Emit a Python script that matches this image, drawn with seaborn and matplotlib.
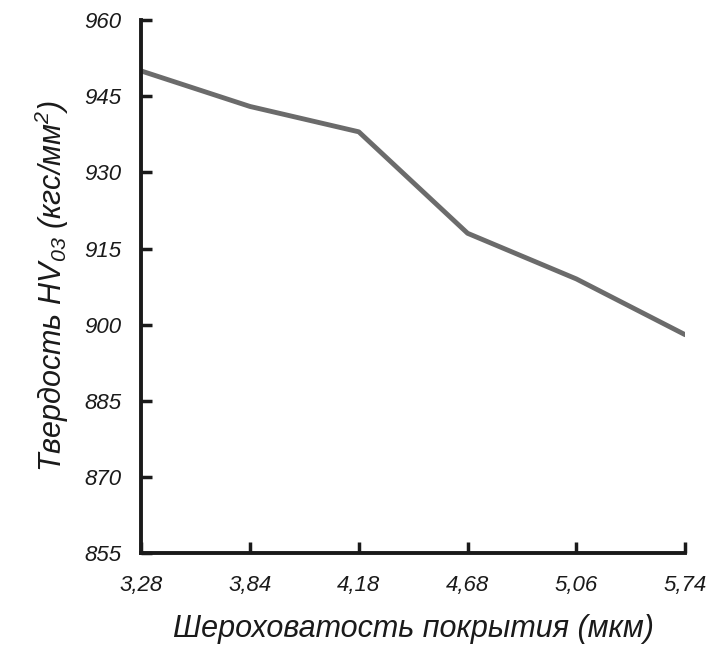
import numpy as np
import pandas as pd
import seaborn as sns
import matplotlib.pyplot as plt

roughness = ['3,28', '3,84', '4,18', '4,68', '5,06', '5,74']
hardness = [950, 943, 938, 918, 909, 898]
y_ticks = [855, 870, 885, 900, 915, 930, 945, 960]

sns.set_theme(style='ticks')
plt.rcParams['font.family'] = ['Liberation Sans Narrow', 'Liberation Sans', 'DejaVu Sans']
plt.rcParams['font.style'] = 'italic'
plt.rcParams['mathtext.fontset'] = 'custom'
plt.rcParams['mathtext.rm'] = 'Liberation Sans:italic'
plt.rcParams['mathtext.it'] = 'Liberation Sans:italic'

df = pd.DataFrame({'x': roughness, 'y': hardness})

fig = plt.figure(figsize=(7.13, 6.52), dpi=100)
ax = fig.add_axes([0.198, 0.152, 0.763, 0.817])

sns.lineplot(data=df, x='x', y='y', ax=ax, color='#6b6b6b', linewidth=3.5, sort=False)

ax.set_xlim(0, len(roughness) - 1)
ax.set_ylim(855, 960)
ax.set_yticks(y_ticks)
ax.set_yticklabels([str(v) for v in y_ticks])

for side in ['top', 'right']:
    ax.spines[side].set_visible(False)
for side in ['left', 'bottom']:
    ax.spines[side].set_color('#1a1a1a')
    ax.spines[side].set_linewidth(2.8)

ax.tick_params(axis='both', direction='in', length=8, width=2.5, color='#1a1a1a',
               labelsize=16, labelcolor='#1a1a1a', bottom=True, left=True)
ax.tick_params(axis='y', pad=14)
ax.tick_params(axis='x', pad=16)

ax.set_xlabel('Шероховатость покрытия (мкм)', fontsize=22, color='#1a1a1a', labelpad=13)
ax.set_ylabel('Твердость HV$_{03}$ (кгс/мм$^{2}$)', fontsize=22, color='#1a1a1a', labelpad=10)

plt.savefig('out.png', dpi=100)
